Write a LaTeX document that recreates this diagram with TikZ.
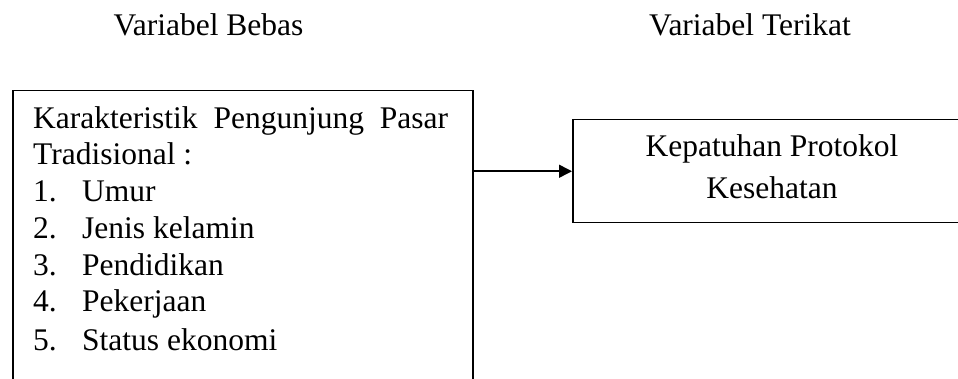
\documentclass[tikz,border=0pt]{standalone}
\usepackage{fontspec}
\setmainfont{Liberation Serif}
\usetikzlibrary{arrows.meta}
\begin{document}
\begin{tikzpicture}[x=1pt,y=-1pt,
  every node/.style={font=\fontsize{31.5}{37}\selectfont, inner sep=0pt},
  boxstyle/.style={draw, line width=1.5pt, anchor=north west},
  txt/.style={anchor=base west},
  ctr/.style={anchor=base}]
\useasboundingbox (0,0) rectangle (958,379);
\clip (0,0) rectangle (958,379);
\node[ctr] (hb) at (208.5,36) {Variabel Bebas};
\node[ctr] (ht) at (750,36) {Variabel Terikat};
\node[boxstyle, minimum width=460pt, minimum height=320pt] (lbox) at (12,90) {};
\node[boxstyle, minimum width=420pt, minimum height=103pt] (rbox) at (572,119) {};
\node[txt] (l1) at (33,129) {\makebox[415pt][s]{Karakteristik\hfill Pengunjung\hfill Pasar}};
\node[txt] (l2) at (33,165) {Tradisional :};
\node[txt] (n1) at (33,202) {1.};
\node[txt] (i1) at (82,202) {Umur};
\node[txt] (n2) at (33,239) {2.};
\node[txt] (i2) at (82,239) {Jenis kelamin};
\node[txt] (n3) at (33,276) {3.};
\node[txt] (i3) at (82,276) {Pendidikan};
\node[txt] (n4) at (33,312) {4.};
\node[txt] (i4) at (82,312) {Pekerjaan};
\node[txt] (n5) at (33,350) {5.};
\node[txt] (i5) at (82,350) {Status ekonomi};
\node[ctr] (r1) at (772,157) {Kepatuhan Protokol};
\node[ctr] (r2) at (772,199) {Kesehatan};
\draw[line width=1.5pt, -{Triangle[length=13pt,width=13pt]}] (lbox.east |- rbox.west) -- (rbox.west);
\end{tikzpicture}
\end{document}
